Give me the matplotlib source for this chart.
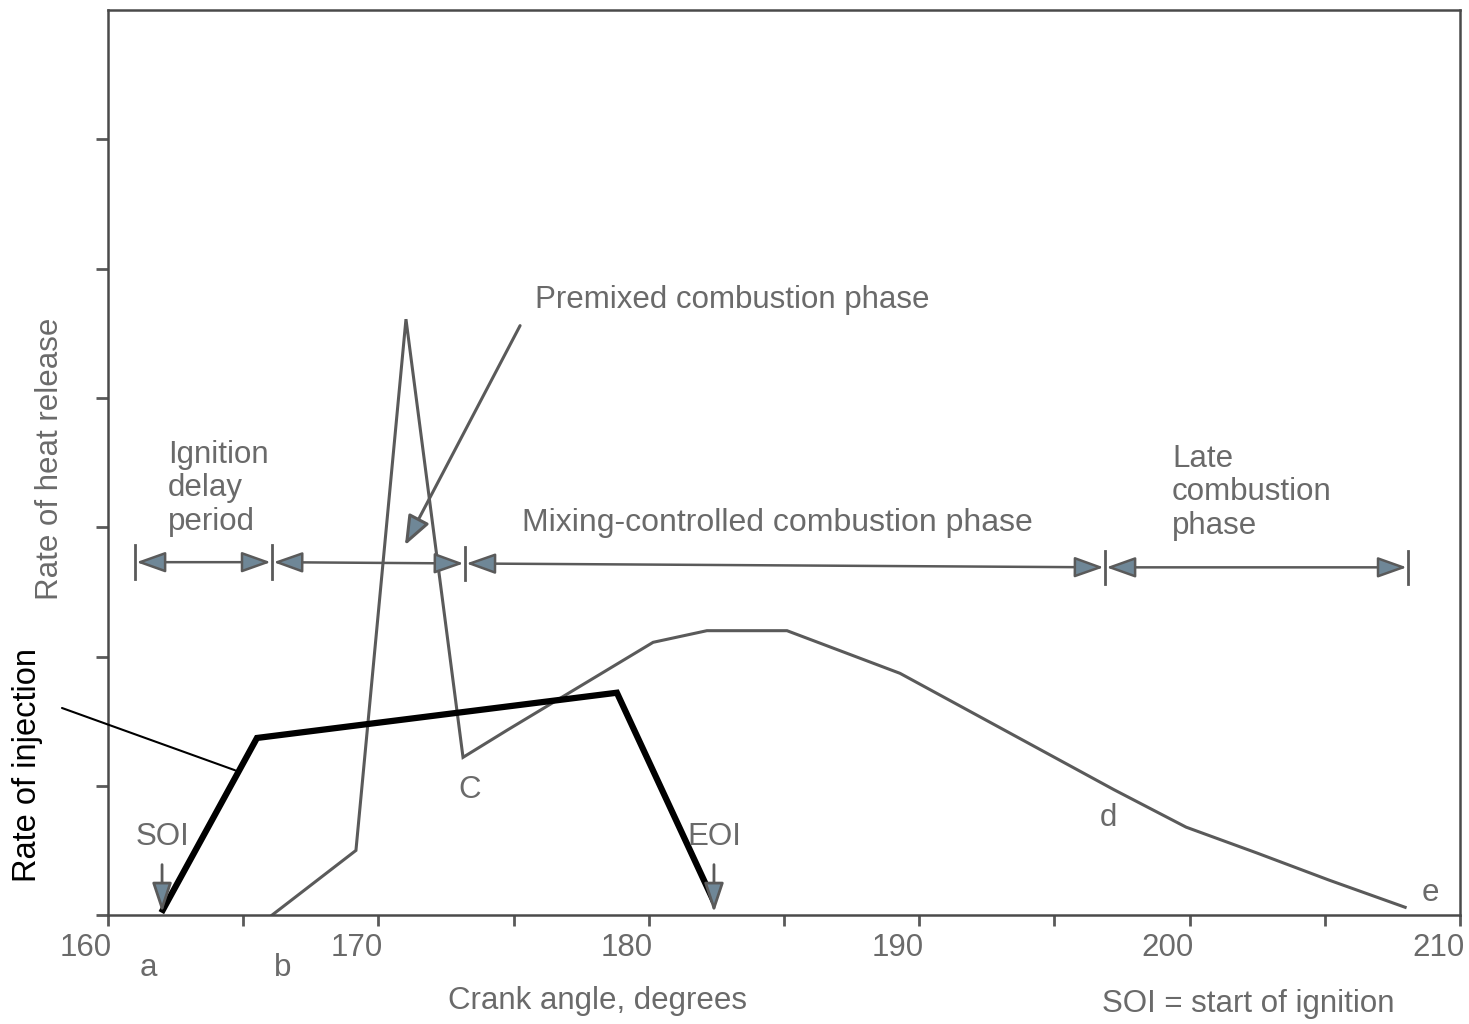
import matplotlib.pyplot as plt
import matplotlib.transforms as mtransforms

plt.rcParams['font.family'] = ['Liberation Sans', 'DejaVu Sans']

# Rate of heat release (grey curve)
hr_angle = [166.07, 169.17, 171.02, 173.13, 174.76, 180.16, 182.15, 185.11,
            189.29, 197.2, 199.87, 202.49, 205.16, 207.97]
hr_rate = [0.0, 0.50, 4.61, 1.22, 1.43, 2.11, 2.20, 2.20,
           1.87, 0.97, 0.68, 0.48, 0.27, 0.06]

# Rate of injection (black trapezoid)
inj_angle = [162.03, 165.51, 178.82, 182.37]
inj_rate = [0.04, 1.37, 1.72, 0.12]

# Phase boundaries for the dimension line
phase_bounds = [161.0, 166.07, 173.2, 196.87, 208.08]
phase_y = [2.73, 2.73, 2.72, 2.69, 2.69]

soi_angle = 162.0
eoi_angle = 182.41

grey = '#5a5a5a'
text_grey = '#6a6a6a'
arrow_col = '#6f8797'
fs = 22.5

fig = plt.figure(figsize=(14.69, 10.24), dpi=100)
ax = fig.add_axes([0.0735, 0.1064, 0.9204, 0.8836])

ax.plot(hr_angle, hr_rate, color=grey, lw=2.2, solid_joinstyle='miter')
ax.plot(inj_angle, inj_rate, color='black', lw=4.5, solid_joinstyle='miter')

ax.set_xlim(160, 210)
ax.set_ylim(0, 7)
ax.set_xticks(range(160, 211, 10))
ax.set_xticks(range(165, 210, 10), minor=True)
ax.set_yticks(range(0, 7))
ax.set_yticklabels([])
ax.tick_params(axis='x', which='both', direction='out', length=8, width=2,
               color=grey, labelsize=fs, labelcolor=text_grey, pad=5)
ax.tick_params(axis='y', direction='out', length=9, width=2, color=grey)
offset = mtransforms.ScaledTranslation(-22 / 100, 0, fig.dpi_scale_trans)
for lab in ax.get_xticklabels():
    lab.set_transform(lab.get_transform() + offset)
for s in ax.spines.values():
    s.set_color('#4a4a4a')
    s.set_linewidth(1.8)

ax.set_xlabel('Crank angle, degrees', fontsize=fs, color=text_grey)
ax.xaxis.set_label_coords(0.3624, -0.078)
ax.set_ylabel('Rate of heat release', fontsize=fs, color=text_grey)
ax.yaxis.set_label_coords(-0.032, 0.504)
fig.text(0.019, 0.253, 'Rate of injection', rotation=90, fontsize=fs + 1,
         color='black', ha='center', va='center')

# leader line to injection curve
ax.annotate('', xy=(164.7, 1.12), xycoords='data',
            xytext=(0.0422, 0.3086), textcoords='figure fraction',
            arrowprops=dict(arrowstyle='-', color='black', lw=1.5,
                            shrinkA=0, shrinkB=0), annotation_clip=False)

# dimension line with phases
for i in range(len(phase_bounds) - 1):
    ax.annotate('', xy=(phase_bounds[i + 1], phase_y[i + 1]),
                xytext=(phase_bounds[i], phase_y[i]),
                arrowprops=dict(arrowstyle='<|-|>,head_length=0.9,head_width=0.32',
                                mutation_scale=20, color=grey, fc=arrow_col,
                                lw=1.8, shrinkA=1, shrinkB=1))
for x, y in zip(phase_bounds, phase_y):
    ax.plot([x, x], [y - 0.13, y + 0.13], color=grey, lw=2)

ax.text(162.22, 3.30, 'Ignition\ndelay\nperiod', fontsize=fs, color=text_grey,
        ha='left', va='center', linespacing=1.15)
ax.text(184.74, 3.03, 'Mixing-controlled combustion phase', fontsize=fs + 0.5,
        color=text_grey, ha='center', va='center')
ax.text(199.35, 3.27, 'Late\ncombustion\nphase', fontsize=fs, color=text_grey,
        ha='left', va='center', linespacing=1.15)
ax.text(175.8, 4.76, 'Premixed combustion phase', fontsize=fs,
        color=text_grey, ha='left', va='center')
ax.annotate('', xy=(170.98, 2.86), xytext=(175.24, 4.56),
            arrowprops=dict(arrowstyle='-|>,head_length=0.9,head_width=0.35',
                            mutation_scale=20, color=grey, fc=arrow_col,
                            lw=2.2, shrinkA=0, shrinkB=0))

# SOI / EOI markers
for x, lab in [(soi_angle, 'SOI'), (eoi_angle, 'EOI')]:
    ax.annotate('', xy=(x, 0.02), xytext=(x, 0.39),
                arrowprops=dict(arrowstyle='-|>,head_length=0.9,head_width=0.3',
                                mutation_scale=20, color=grey, fc=arrow_col,
                                lw=2, shrinkA=0, shrinkB=0))
    ax.text(x, 0.6, lab, fontsize=fs, color=text_grey, ha='center', va='center')

# point letters
ax.text(173.39, 0.97, 'C', fontsize=fs, color=text_grey, ha='center', va='center')
ax.text(196.98, 0.75, 'd', fontsize=fs, color=text_grey, ha='center', va='center')
ax.text(208.89, 0.17, 'e', fontsize=fs, color=text_grey, ha='center', va='center')
ax.text(161.48, -0.41, 'a', fontsize=fs, color=text_grey, ha='center',
        va='center', clip_on=False)
ax.text(166.47, -0.41, 'b', fontsize=fs, color=text_grey, ha='center',
        va='center', clip_on=False)
fig.text(0.850, 0.020, 'SOI = start of ignition', fontsize=fs,
         color=text_grey, ha='center', va='center')

fig.savefig('out.png', dpi=100)
